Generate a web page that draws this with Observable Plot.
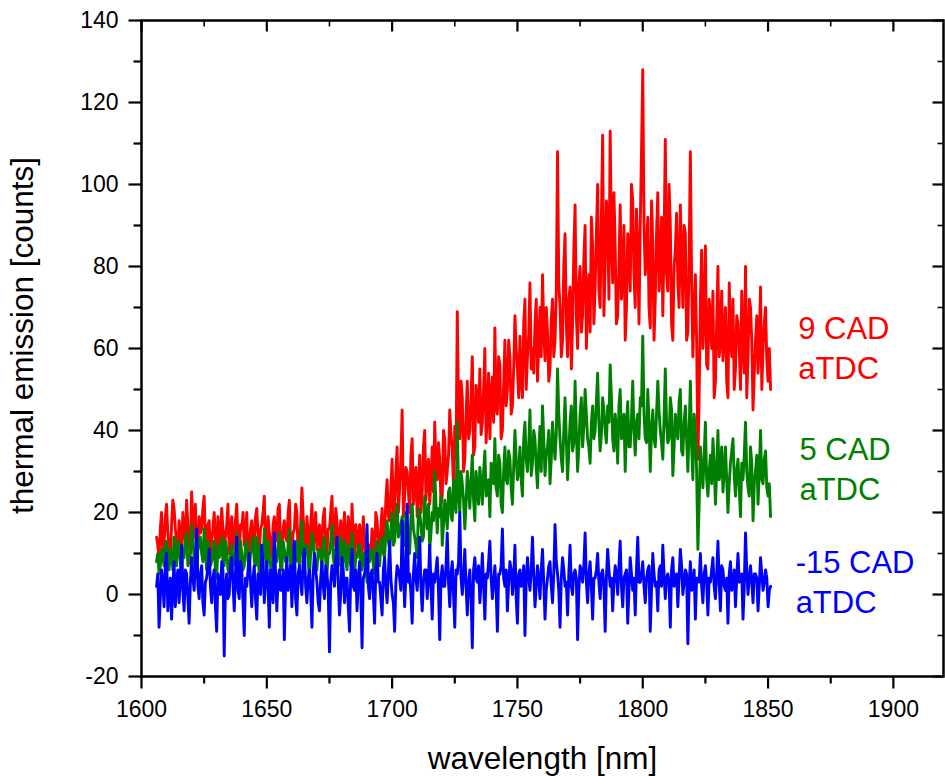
<!DOCTYPE html>
<html>
<head>
<meta charset="utf-8">
<script src="https://cdn.jsdelivr.net/npm/d3@7"></script>
<script src="https://cdn.jsdelivr.net/npm/@observablehq/plot@0.6"></script>
<style>
  html, body { margin: 0; padding: 0; background: #fff; }
  #chart svg { display: block; }
</style>
</head>
<body>
<div id="chart"></div>
<script>
// wavelength grid [nm]: whole-nm samples and half-nm samples
const wlStart = 1606;

// 9 CAD aTDC (red) at 1606, 1607, ... 1851 nm
const red = [
  14, 9, 20, 12, 22, 11, 17, 21, 13, 18,
  10, 15, 23, 12, 25, 14, 9, 19, 16, 24,
  11, 18, 13, 20, 8, 15, 21, 12, 17, 10,
  19, 14, 22, 9, 16, 12, 20, 11, 18, 13,
  21, 10, 17, 24, 12, 15, 9, 19, 14, 22,
  11, 18, 13, 23, 10, 16, 20, 12, 26, 14,
  19, 9, 22, 15, 11, 17, 13, 21, 10, 16,
  24, 12, 18, 14, 8, 20, 11, 15, 22, 9,
  14, 17, 10, 13, 7, 12, 16, 9, 18, 11,
  21, 15, 28, 18, 33, 22, 36, 26, 45, 24,
  30, 20, 38, 27, 19, 34, 25, 40, 29, 22,
  36, 42, 28, 33, 24, 38, 30, 45, 35, 41,
  69, 38, 48, 33, 52, 40, 58, 36, 47, 55,
  42, 60, 45, 38, 53, 65, 44, 56, 40, 62,
  50, 58, 46, 68, 55, 63, 48, 72, 58, 76,
  60, 66, 52, 70, 78, 57, 64, 55, 72, 62,
  108, 70, 62, 88, 58, 75, 66, 95, 60, 80,
  68, 90, 72, 64, 85, 75, 100, 70, 112, 80,
  92, 113, 76, 85, 68, 95, 78, 62, 88, 74,
  96, 70, 84, 90, 128, 78, 92, 65, 86, 72,
  98, 80, 68, 111, 74, 90, 62, 84, 76, 95,
  70, 88, 64, 108, 58, 78, 33, 72, 60, 85,
  55, 68, 74, 52, 80, 62, 57, 70, 48, 64,
  72, 55, 66, 50, 60, 80, 58, 70, 45, 62,
  54, 75, 60, 70, 52, 50
];
// red at 1606.5, 1607.5, ... 1850.5 nm
const redHalf = [
  12, 16, 10, 19, 15, 8, 23, 16, 10, 15,
  20, 13, 17, 10, 18, 22, 12, 15, 21, 13,
  17, 9, 16, 14, 19, 11, 16, 14, 22, 15,
  11, 18, 13, 17, 20, 15, 8, 16, 12, 19,
  14, 16, 20, 10, 19, 12, 17, 13, 21, 10,
  16, 14, 20, 12, 15, 22, 9, 17, 19, 11,
  15, 17, 11, 20, 14, 10, 19, 12, 16, 20,
  13, 21, 10, 18, 15, 12, 19, 10, 14, 17,
  11, 15, 19, 9, 12, 10, 14, 20, 13, 16,
  12, 23, 19, 26, 17, 30, 20, 33, 19, 31,
  25, 34, 22, 31, 26, 20, 36, 23, 33, 28,
  25, 31, 37, 22, 40, 27, 34, 39, 26, 33,
  45, 52, 30, 44, 38, 48, 34, 51, 42, 39,
  50, 37, 54, 49, 42, 45, 58, 38, 51, 46,
  62, 44, 55, 60, 48, 52, 66, 50, 63, 55,
  54, 72, 61, 58, 65, 70, 52, 67, 58, 74,
  76, 58, 80, 66, 72, 55, 84, 68, 76, 64,
  82, 60, 78, 92, 66, 88, 74, 92, 68, 96,
  72, 88, 98, 66, 80, 72, 90, 70, 82, 100,
  78, 94, 66, 108, 90, 84, 70, 96, 62, 88,
  74, 92, 86, 78, 100, 66, 80, 93, 70, 82,
  90, 62, 82, 76, 70, 62, 48, 84, 68, 56,
  72, 60, 48, 66, 58, 74, 64, 52, 76, 58,
  50, 68, 60, 74, 54, 48, 72, 62, 54, 68,
  62, 50, 66, 57, 60
];

// 5 CAD aTDC (green)
const green = [
  8, 5, 11, 7, 13, 6, 10, 14, 7, 12,
  5, 9, 15, 8, 17, 9, 4, 12, 10, 16,
  6, 11, 8, 13, 4, 9, 14, 7, 11, 5,
  12, 8, 15, 5, 10, 7, 13, 6, 11, 8,
  14, 5, 10, 16, 7, 9, 4, 12, 8, 15,
  6, 11, 8, 16, 5, 10, 13, 7, 18, 9,
  12, 4, 15, 9, 6, 11, 7, 14, 5, 10,
  17, 7, 12, 8, 4, 13, 6, 9, 15, 5,
  9, 12, 6, 8, 3, 8, 11, 5, 13, 7,
  14, 9, 18, 11, 20, 13, 22, 15, 19, 12,
  17, 10, 22, 14, 9, 20, 13, 24, 16, 11,
  20, 30, 15, 19, 12, 23, 16, 26, 18, 22,
  42, 20, 27, 16, 30, 21, 34, 18, 26, 31,
  22, 35, 25, 19, 30, 38, 24, 32, 20, 36,
  27, 33, 22, 40, 28, 36, 24, 42, 30, 45,
  32, 38, 26, 41, 46, 29, 36, 27, 42, 33,
  55, 38, 30, 48, 28, 42, 35, 52, 30, 44,
  36, 50, 38, 32, 46, 40, 54, 35, 48, 40,
  46, 56, 38, 44, 32, 50, 40, 30, 47, 36,
  52, 34, 44, 48, 63, 38, 50, 30, 45, 36,
  52, 40, 33, 55, 37, 48, 29, 44, 38, 50,
  34, 46, 30, 52, 28, 40, 11, 36, 26, 42,
  24, 34, 38, 22, 40, 30, 25, 36, 20, 32,
  38, 24, 33, 19, 28, 42, 26, 36, 18, 30,
  22, 40, 27, 35, 24, 19
];
const greenHalf = [
  10, 7, 9, 12, 8, 11, 6, 9, 13, 8,
  11, 14, 7, 10, 13, 6, 11, 14, 8, 10,
  13, 7, 10, 6, 12, 10, 8, 13, 6, 9,
  7, 11, 9, 13, 6, 12, 9, 10, 14, 7,
  9, 12, 6, 11, 13, 7, 10, 9, 12, 6,
  13, 8, 12, 7, 11, 8, 9, 14, 7, 12,
  8, 10, 13, 6, 11, 9, 12, 8, 10, 13,
  9, 11, 7, 14, 10, 8, 12, 7, 11, 9,
  12, 7, 10, 6, 9, 11, 7, 10, 9, 12,
  10, 15, 13, 16, 12, 18, 14, 17, 15, 20,
  13, 19, 16, 12, 21, 17, 14, 19, 22, 15,
  18, 22, 21, 24, 17, 20, 25, 19, 28, 20,
  25, 30, 23, 22, 26, 28, 23, 30, 22, 27,
  30, 24, 28, 32, 27, 26, 34, 22, 30, 28,
  35, 26, 31, 33, 30, 28, 38, 33, 36, 29,
  40, 31, 35, 30, 38, 34, 40, 33, 37, 39,
  44, 33, 40, 38, 35, 46, 37, 40, 36, 48,
  41, 44, 36, 42, 38, 47, 42, 39, 45, 37,
  42, 48, 35, 40, 46, 38, 44, 41, 36, 43,
  40, 42, 38, 46, 44, 37, 42, 40, 38, 44,
  45, 37, 43, 42, 38, 45, 36, 40, 47, 35,
  42, 38, 40, 36, 44, 30, 22, 30, 34, 28,
  30, 27, 32, 30, 28, 36, 30, 28, 27, 35,
  29, 30, 26, 32, 34, 30, 24, 32, 27, 34,
  30, 28, 33, 26, 27
];

// -15 CAD aTDC (blue)
const blue = [
  2, -8, 6, -3, 10, 0, -6, 8, 3, -2,
  12, -4, 5, -7, 9, 1, 16, -1, 7, -5,
  4, 11, -2, 6, -9, 3, 8, -15, 5, 0,
  9, -4, 14, -1, 6, -10, 2, 10, -3, 7,
  -6, 4, 12, -2, 8, -8, 3, 15, -4, 6,
  1, -11, 9, 4, -3, 13, -5, 7, 0, 11,
  -2, 6, -8, 10, 3, -4, 8, -1, 5, -14,
  7, 2, 14, -5, 9, -2, 4, -9, 11, 1,
  -4, 8, -13, 5, 17, -1, 6, -7, 10, 3,
  -5, 9, -2, 13, 0, -9, 7, 4, 18, -3,
  22, 5, -7, 10, 1, 14, -4, 6, -1, 12,
  -6, 3, 9, -11, 7, 2, 15, -3, 8, -8,
  5, 20, 0, 11, -5, 6, -13, 9, 3, -2,
  10, -6, 4, 13, -1, 7, -9, 5, 16, 2,
  -4, 8, 0, 12, -7, 6, 3, -10, 9, 1,
  14, -3, 7, -1, 11, -6, 4, 8, -2, 17,
  5, -8, 9, 2, -5, 12, 0, 6, -11, 7,
  3, 15, -2, 8, -6, 4, 10, -1, 6, -9,
  11, 2, -4, 7, 0, 13, -3, 5, -7, 9,
  1, -5, 14, 3, 8, -2, 6, -9, 10, 2,
  -4, 7, 12, -1, 5, -8, 9, 3, -3, 11,
  0, 6, -12, 8, 2, -6, 4, 10, -2, 7,
  -5, 3, 9, -1, 13, -4, 6, 1, -7, 8,
  2, -3, 10, 4, -6, 15, 0, 7, -2, 5,
  -4, 9, 1, 6, -3, 2
];
const blueHalf = [
  5, -1, 3, 7, -4, 4, 2, -3, 6, 4,
  1, 6, -1, 3, 4, 8, 2, 5, -2, 3,
  7, 2, 4, -3, 5, 0, 6, 2, -1, 7,
  3, 5, 1, 8, -2, 4, 6, 3, 4, -1,
  5, 0, 7, 3, 2, 6, -2, 5, 4, 1,
  6, 3, 1, 7, 4, -1, 5, 3, 8, 2,
  4, 1, 5, 6, -2, 4, 2, 7, 1, 3,
  5, 8, 3, 0, 6, 4, -3, 5, 2, 6,
  3, 1, 4, 7, 2, 5, 0, 6, 3, -1,
  6, 2, 5, 4, -2, 3, 6, 1, 7, 5,
  3, 0, 5, 4, 7, 2, 3, 6, 4, 2,
  5, 6, 1, 4, 2, 7, 3, 5, 0, 6,
  8, 4, 5, 2, 3, -1, 6, 4, 7, 3,
  2, 5, 8, 4, 3, 1, 5, 7, 4, 6,
  3, 6, 4, -1, 5, 2, 7, 3, 4, 6,
  5, 2, 4, 6, 3, 1, 7, 2, 5, 8,
  1, 4, 6, 3, 5, 2, 5, 4, 1, 6,
  7, 3, 5, 2, 4, 6, 3, 5, 2, 4,
  6, 4, 3, 5, 7, 2, 4, 6, 1, 5,
  4, 6, 3, 5, 2, 4, 7, 1, 5, 3,
  6, 2, 5, 4, 3, 6, 2, 5, 4, 7,
  3, 5, 2, 1, 6, 4, 3, 2, 5, 3,
  4, 6, 2, 5, 3, 7, 2, 4, 5, 1,
  6, 4, 3, 5, 2, 6, 4, 3, 5, 4,
  2, 5, 3, 4, 1
];

const seriesNames = ["9 CAD\naTDC", "5 CAD\naTDC", "-15 CAD\naTDC"];
const seriesColors = ["#ff0000", "#008000", "#0000ff"];
const labelX = [1862, 1862.5, 1861];
const labelY = [60.5, 31, 3.5];

const xTicks = [1600, 1650, 1700, 1750, 1800, 1850, 1900];
const xMinor = [1625, 1675, 1725, 1775, 1825, 1875];
const yTicks = [-20, 0, 20, 40, 60, 80, 100, 120, 140];
const yMinor = [-10, 10, 30, 50, 70, 90, 110, 130];
const xDomain = [1600, 1920];
const yDomain = [-20, 140];

function buildSeries(whole, half) {
  const out = [];
  for (let i = 0; i < whole.length; i++) {
    out.push({x: wlStart + i, y: whole[i]});
    if (i < half.length) out.push({x: wlStart + i + 0.5, y: half[i]});
  }
  return out;
}
const seriesData = [buildSeries(red, redHalf), buildSeries(green, greenHalf), buildSeries(blue, blueHalf)];
const labels = seriesNames.map((t, k) => ({t, x: labelX[k], y: labelY[k], c: seriesColors[k]}));

const W = 945, H = 776, mL = 141, mR = 2, mT = 20, mB = 100;
const yLo = yDomain[0], yHi = yDomain[1], xLo = xDomain[0], xHi = xDomain[1];
// data units per pixel, so tick lengths can be given in pixels
const yPerPx = (yHi - yLo) / (H - mT - mB);
const xPerPx = (xHi - xLo) / (W - mL - mR);

// tick segments built from the tick lists (length in px -> data units)
const xTickSeg = (vals, yBase, lenPx) => vals.map(v => ({x1: v, x2: v, y1: yBase, y2: yBase + lenPx * yPerPx}));
const yTickSeg = (vals, xBase, lenPx) => vals.map(v => ({y1: v, y2: v, x1: xBase, x2: xBase + lenPx * xPerPx}));

const tickMark = (data, w) => Plot.link(data, {x1: "x1", y1: "y1", x2: "x2", y2: "y2", stroke: "#000", strokeWidth: w});

const chart = Plot.plot({
  width: W,
  height: H,
  marginLeft: mL,
  marginRight: mR,
  marginTop: mT,
  marginBottom: mB,
  style: {fontFamily: "'Liberation Sans', Arial, sans-serif", fontSize: "23px", color: "#000", background: "#fff"},
  x: {domain: xDomain},
  y: {domain: yDomain},
  marks: [
    ...[0, 1, 2].map(k => Plot.line(seriesData[k], {
      x: "x", y: "y", stroke: seriesColors[k], strokeWidth: 2.9, strokeLinejoin: "round"
    })),
    // tick labels
    Plot.axisX({ticks: xTicks, tickSize: 0, tickPadding: 24, fontSize: 23, label: null, tickFormat: d => String(d)}),
    Plot.axisY({ticks: yTicks, tickSize: 0, tickPadding: 23, fontSize: 23, label: null, tickFormat: d => String(d)}),
    // bottom ticks (outward)
    tickMark(xTickSeg(xTicks, yLo, -12), 2.2),
    tickMark(xTickSeg(xMinor, yLo, -7), 2.2),
    // top ticks (inward)
    tickMark(xTickSeg(xTicks, yHi, -11), 2.2),
    tickMark(xTickSeg(xMinor, yHi, -6), 1.6),
    // left ticks (outward)
    tickMark(yTickSeg(yTicks, xLo, -13), 2.2),
    tickMark(yTickSeg(yMinor, xLo, -8), 2.2),
    // right ticks (inward)
    tickMark(yTickSeg(yTicks, xHi, -11), 2.2),
    tickMark(yTickSeg(yMinor, xHi, -6), 1.6),
    Plot.frame({stroke: "#000", strokeWidth: 2.5}),
    // axis titles
    Plot.text(["wavelength [nm]"], {frameAnchor: "bottom", dy: 92, fontSize: 31.5, fill: "#000", textAnchor: "middle"}),
    Plot.text(["thermal emission [counts]"], {frameAnchor: "left", dx: -119, dy: -13, rotate: -90, fontSize: 31.5, fill: "#000", textAnchor: "middle"}),
    // series labels
    Plot.text(labels, {x: "x", y: "y", text: "t", fill: "c", textAnchor: "start", fontSize: 31, lineHeight: 1.28})
  ]
});
document.getElementById("chart").appendChild(chart);
</script>
</body>
</html>
